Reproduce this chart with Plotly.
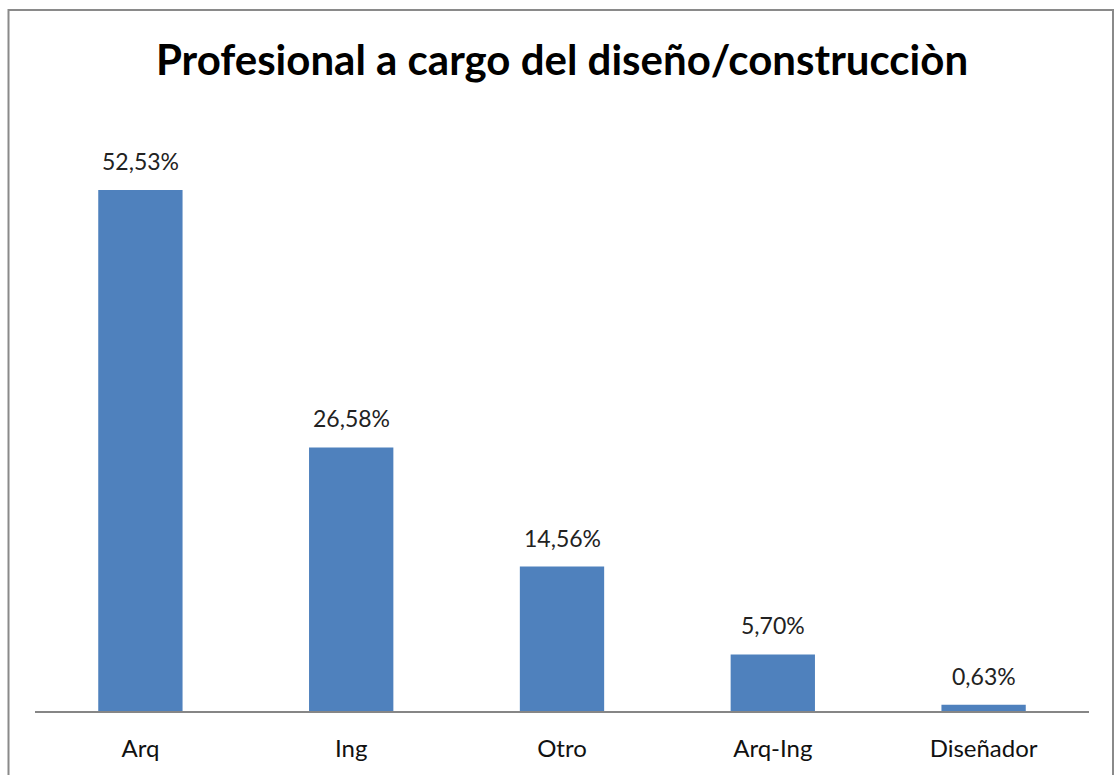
import plotly.graph_objects as go

categories = ["Arq", "Ing", "Otro", "Arq-Ing", "Diseñador"]
values = [52.53, 26.58, 14.56, 5.70, 0.63]
title_text = "Profesional a cargo del diseño/construcciòn"

labels = [f"{v:.2f}%".replace(".", ",") for v in values]

W, H = 1118, 775
L, R, T, B = 35, 1089, 116, 711
pw, ph = R - L, B - T

fig = go.Figure(go.Bar(
    x=categories, y=values, marker=dict(color="#4F81BD", line=dict(width=0)),
    width=0.4, hoverinfo="skip",
))

for c, v, t in zip(categories, values, labels):
    fig.add_annotation(x=c, y=v, text=t, showarrow=False, yanchor="bottom",
                       yshift=13, font=dict(family="Lato, sans-serif", size=23, color="#222222"))

def px(x):
    return (x - L) / pw

def py(y):
    return (B - y) / ph

fig.add_shape(type="rect", xref="paper", yref="paper",
              x0=px(8.5), x1=px(1113), y0=py(820), y1=py(10),
              line=dict(color="#8a8a8a", width=2), fillcolor="rgba(0,0,0,0)", layer="below")

fig.update_layout(
    width=W, height=H,
    margin=dict(l=L, r=W - R, t=T, b=H - B, pad=0),
    paper_bgcolor="white", plot_bgcolor="white",
    showlegend=False,
    title=dict(text=f"<b>{title_text}</b>", x=562 / W, xanchor="center",
               y=1 - 60 / H, yanchor="middle",
               font=dict(family="Lato, sans-serif", size=42, color="#000000")),
    xaxis=dict(showline=True, linecolor="#868686", linewidth=1.5, ticks="", showgrid=False,
               tickfont=dict(family="Lato, sans-serif", size=24, color="#111111"),
               ticklabelstandoff=16, fixedrange=True),
    yaxis=dict(range=[0, 60], visible=False, showgrid=False, fixedrange=True),
)

fig.write_html(
    "out.html",
    config={"displayModeBar": False, "staticPlot": True},
    post_script="document.body.style.margin='0';document.body.style.overflow='hidden';",
)
